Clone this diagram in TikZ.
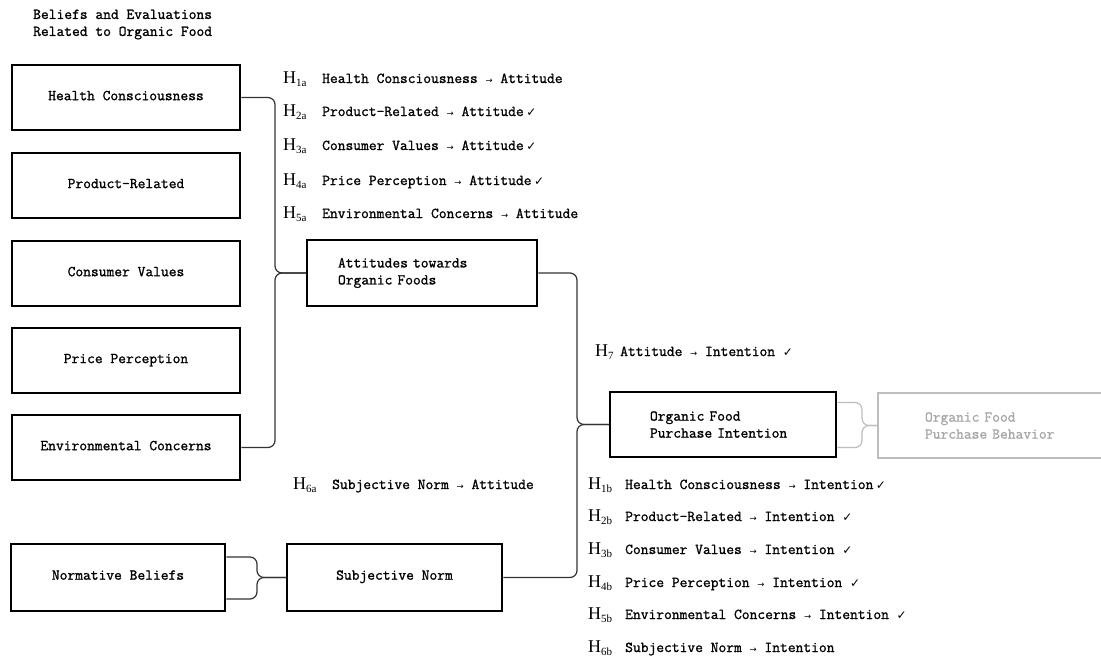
\documentclass[tikz,border=0pt]{standalone}
\usepackage{fontspec}
\newfontfamily\monof[FakeBold=1.2]{Latin Modern Mono}
\newfontfamily\seriff{Liberation Serif}
\newfontfamily\symf{DejaVu Sans}
\newcommand\hH[2]{\makebox[#2][l]{{\seriff\fontsize{18}{18}\selectfont H}\raisebox{-3pt}{\seriff\fontsize{11}{11}\selectfont #1}}}
\newcommand\arr{{\symf\fontsize{8.5}{8.5}\selectfont →}}
\newcommand\ck{{\symf\fontsize{12}{12}\selectfont ✓}}
\definecolor{conncol}{HTML}{333333}
\definecolor{lightline}{HTML}{BDBDBD}
\definecolor{lighttext}{HTML}{A8A8A8}
\tikzset{
  txt/.style={inner sep=0pt, font=\monof\fontsize{15.1}{17}\selectfont},
  box/.style={draw, line width=2.5pt, inner sep=0pt, txt, minimum height=65pt},
  lbox/.style={box, minimum width=228pt},
  graybox/.style={draw=lightline, line width=2pt, inner sep=0pt, txt, text=lighttext, minimum height=65pt},
  conn/.style={draw=conncol, line width=1.2pt, rounded corners=7pt},
  grayconn/.style={draw=lightline, line width=1.2pt, rounded corners=7pt},
  hyp/.style={txt, anchor=base west}
}
\begin{document}
\begin{tikzpicture}[x=1pt,y=-1pt]
\useasboundingbox[fill=white] (0,0) rectangle (1101,657);

\node[txt, anchor=west, align=left] (title) at (33,24.5) {Beliefs and Evaluations\\Related to Organic Food};

\node[lbox] (hc) at (126,97.5) {\raisebox{4pt}{Health Consciousness}};
\node[lbox] (pr) at (126,185.5) {\raisebox{4pt}{Product-Related}};
\node[lbox] (cv) at (126,273.5) {\raisebox{4pt}{Consumer Values}};
\node[lbox] (pp) at (126,360.5) {\raisebox{4pt}{Price Perception}};
\node[lbox] (ec) at (126,447.5) {\raisebox{4pt}{Environmental Concerns}};

\node[box, minimum width=230pt, minimum height=66pt, text width=168pt, align=left] (att) at (422,273) {Attitudes towards\\Organic Foods};
\node[box, minimum width=226pt, text width=146pt, align=left] (int) at (723,424.5) {Organic Food\\Purchase Intention};
\node[graybox, minimum width=262pt, text width=168pt, align=left] (beh) at (1009,425.5) {Organic Food\\Purchase Behavior};

\node[box, minimum width=214pt, minimum height=67pt] (nb) at (118,577.5) {\raisebox{5pt}{Normative Beliefs}};
\node[box, minimum width=215pt, minimum height=67pt] (sn) at (394.5,577.5) {\raisebox{5pt}{Subjective Norm}};

% connectors
\coordinate (j1) at (275,273);
\draw[conn] (hc.east) -- (hc.east -| j1) -- (j1) -- (att.west);
\draw[conn] (ec.east) -- (ec.east -| j1) -- (j1) -- (att.west);

\coordinate (j2) at (577,424.5);
\draw[conn] (att.east) -- (att.east -| j2) -- (j2) -- (int.west);
\draw[conn] (sn.east) -- (sn.east -| j2) -- (j2) -- (int.west);

\coordinate (j3) at (257,577.5);
\coordinate (nbu) at ([yshift=20.5pt]nb.east);
\coordinate (nbl) at ([yshift=-21.5pt]nb.east);
\draw[conn] (nbu) -- (nbu -| j3) -- (j3) -- (sn.west);
\draw[conn] (nbl) -- (nbl -| j3) -- (j3) -- (sn.west);

\coordinate (j4) at (862,425.5);
\coordinate (intu) at ([yshift=22pt]int.east);
\coordinate (intl) at ([yshift=-23pt]int.east);
\draw[grayconn] (intu) -- (intu -| j4) -- (j4) -- (beh.west);
\draw[grayconn] (intl) -- (intl -| j4) -- (j4) -- (beh.west);

% hypotheses (attitude)
\node[hyp] (h1a) at (283,83) {\hH{1a}{39pt}Health Consciousness \arr{} Attitude};
\node[hyp] (h2a) at (283,116) {\hH{2a}{39pt}Product-Related \arr{} Attitude\,\ck};
\node[hyp] (h3a) at (283,150) {\hH{3a}{39pt}Consumer Values \arr{} Attitude\,\ck};
\node[hyp] (h4a) at (283,185) {\hH{4a}{39pt}Price Perception \arr{} Attitude\,\ck};
\node[hyp] (h5a) at (283,218) {\hH{5a}{39pt}Environmental Concerns \arr{} Attitude};
\node[hyp] (h6a) at (293,489) {\hH{6a}{39pt}Subjective Norm \arr{} Attitude};
\node[hyp] (h7) at (595,356) {\hH{7}{25pt}Attitude \arr{} Intention \ck};

% hypotheses (intention)
\node[hyp] (h1b) at (588,489) {\hH{1b}{37pt}Health Consciousness \arr{} Intention\,\ck};
\node[hyp] (h2b) at (588,521) {\hH{2b}{37pt}Product-Related \arr{} Intention \ck};
\node[hyp] (h3b) at (588,554) {\hH{3b}{37pt}Consumer Values \arr{} Intention \ck};
\node[hyp] (h4b) at (588,587) {\hH{4b}{37pt}Price Perception \arr{} Intention \ck};
\node[hyp] (h5b) at (588,619) {\hH{5b}{37pt}Environmental Concerns \arr{} Intention \ck};
\node[hyp] (h6b) at (588,652) {\hH{6b}{37pt}Subjective Norm \arr{} Intention};
\end{tikzpicture}
\end{document}
